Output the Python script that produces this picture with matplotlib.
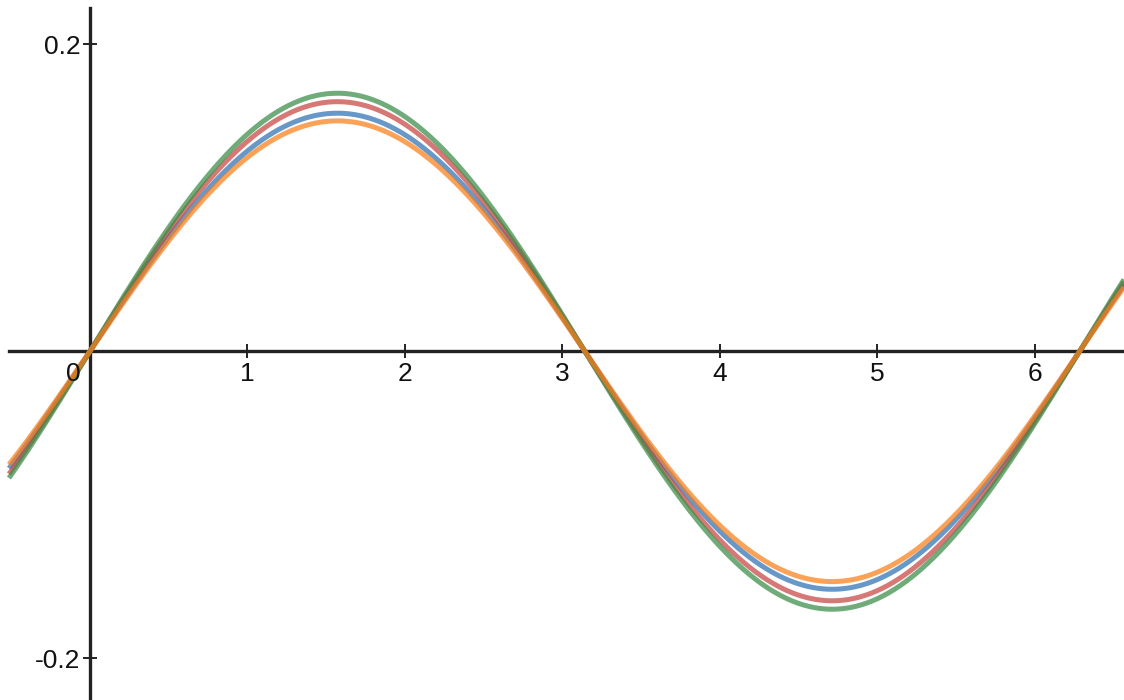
import numpy as np
import matplotlib.pyplot as plt

# amplitudes of the four sine curves, read from the peaks/troughs
series_names = ["blue", "red", "green", "orange"]
amplitudes = [0.155, 0.1625, 0.168, 0.150]
colors = ["#2d70b3", "#c74440", "#388c46", "#fa7e19"]

x_ticks = [1, 2, 3, 4, 5, 6]
y_ticks = [-0.2, 0.2]
y_tick_labels = ["-0.2", "0.2"]

xmin, xmax = -0.571, 6.565
ymin, ymax = -0.2271, 0.2287
x_start = -0.514   # curves and x axis start a little inside the left edge

plt.rcParams['font.family'] = ['Liberation Sans', 'DejaVu Sans']

fig = plt.figure(figsize=(11.24, 7), dpi=100)
ax = fig.add_axes([0, 0, 1, 1])

x = np.linspace(x_start, xmax, 1200)
for name, a, c in zip(series_names, amplitudes, colors):
    ax.plot(x, a * np.sin(x), color=c, alpha=0.72, lw=3.6, solid_capstyle='butt', label=name)

ax.set_xlim(xmin, xmax)
ax.set_ylim(ymin, ymax)

axis_col = "#222222"
for s in ['top', 'right']:
    ax.spines[s].set_visible(False)
ax.spines['left'].set_position(('data', 0))
ax.spines['bottom'].set_position(('data', 0))
ax.spines['left'].set_bounds(ymin, 0.2235)
ax.spines['bottom'].set_bounds(x_start, xmax)
for s in ['left', 'bottom']:
    ax.spines[s].set_linewidth(2.4)
    ax.spines[s].set_color(axis_col)
    ax.spines[s].set_zorder(0)

ax.set_xticks(x_ticks)
ax.set_xticklabels([str(t) for t in x_ticks])
ax.set_yticks(y_ticks)
ax.set_yticklabels(y_tick_labels)
ax.tick_params(axis='both', direction='inout', length=9.4, width=1.4,
               color=axis_col, labelsize=19, labelcolor="#111111")
ax.tick_params(axis='x', pad=3)
ax.tick_params(axis='y', pad=2)

# origin label sits left of the vertical axis
ax.annotate("0", xy=(0, 0), xytext=(-12.2, -7.5), textcoords='offset points',
            ha='center', va='top', fontsize=19, color="#111111")

fig.savefig("out.png", dpi=100)
